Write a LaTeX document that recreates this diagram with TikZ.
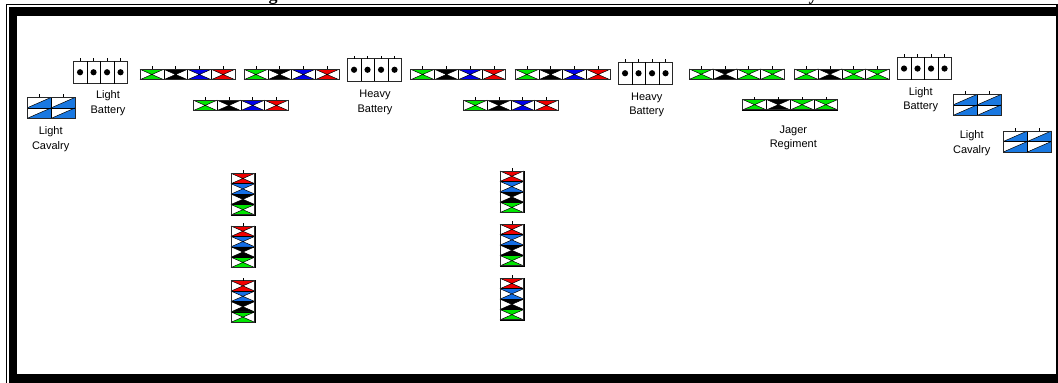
\documentclass[tikz,border=0pt]{standalone}
\usepackage{fontspec}
\setmainfont{Liberation Sans}
\newfontfamily\headfont{Liberation Serif}
\definecolor{infgreen}{RGB}{0,230,0}
\definecolor{infblue}{RGB}{0,0,235}
\definecolor{colblue}{RGB}{20,110,230}
\definecolor{cavblue}{RGB}{25,120,225}
\definecolor{infred}{RGB}{240,0,0}
\definecolor{edge}{RGB}{40,40,40}
\begin{document}
\begin{tikzpicture}[x=1pt,y=-1pt,
  unitline/.style={draw=edge,line width=0.9pt},
  inner/.style={draw=black,line width=0.5pt},
  tick/.style={draw=black,line width=0.6pt},
  label/.style={font=\fontsize{11}{14.5}\selectfont,align=center,inner sep=0pt},
  % one company: top and bottom triangles filled, crossed diagonals
  pics/coy/.style={code={
    \fill[#1] (0,0) -- (23.75,0) -- (11.875,5.2) -- cycle;
    \fill[#1] (0,10.4) -- (23.75,10.4) -- (11.875,5.2) -- cycle;
    \draw[inner] (0,0) -- (23.75,10.4) (0,10.4) -- (23.75,0);
    \draw[inner] (0,0) rectangle (23.75,10.4);
  }},
  % battalion in line: four companies side by side
  pics/bn/.style n args={4}{code={
    \pic at (0,0) {coy=#1};
    \pic at (23.75,0) {coy=#2};
    \pic at (47.5,0) {coy=#3};
    \pic at (71.25,0) {coy=#4};
    \draw[unitline] (0,0) rectangle (95,10.4);
    \foreach \i in {0,...,3} \draw[tick] ({11.875+23.75*\i},0) -- ++(0,-3);
  }},
  % battalion in column: four companies stacked
  pics/col/.style n args={4}{code={
    \pic at (0,0) {coy=#1};
    \pic at (0,10.4) {coy=#2};
    \pic at (0,20.8) {coy=#3};
    \pic at (0,31.2) {coy=#4};
    \draw[unitline] (0,0) rectangle (23.75,41.6);
    \draw[tick] (11.875,0) -- ++(0,-3);
  }},
  % artillery battery: four guns
  pics/battery/.style={code={
    \draw[unitline] (0,0) rectangle (54,22.5);
    \foreach \i in {1,2,3} \draw[inner] ({13.5*\i},0) -- ({13.5*\i},22.5);
    \foreach \i in {0,...,3} {
      \fill ({6.75+13.5*\i},11.25) circle[radius=3.1];
      \draw[tick] ({6.75+13.5*\i},0) -- ++(0,-3);
    }
  }},
  % cavalry: two squadrons of two troops each
  pics/cav/.style={code={
    \foreach \cx in {0,24} \foreach \cy in {0,10.5} {
      \fill[cavblue] (\cx,\cy+10.5) -- (\cx+24,\cy) -- (\cx+24,\cy+10.5) -- cycle;
      \draw[inner] (\cx,\cy+10.5) -- (\cx+24,\cy);
    }
    \draw[inner] (24,0) -- (24,21) (0,10.5) -- (48,10.5);
    \draw[unitline] (0,0) rectangle (48,21);
    \draw[tick] (12,0) -- ++(0,-3) (36,0) -- ++(0,-3);
  }}
]
\useasboundingbox (0,0) rectangle (1058,383);

% heading, cut by the frame
\begin{scope}
  \clip (0,0) rectangle (1058,4.2);
  \node[anchor=base,inner sep=0pt,font=\headfont\bfseries\fontsize{18}{18}\selectfont] (headg) at (273,0.3) {g};
  \node[anchor=base,inner sep=0pt,font=\headfont\bfseries\fontsize{18}{18}\selectfont] (heady) at (813,0.3) {y};
\end{scope}

% frame
\draw[line width=1.2pt] (6.6,383) -- (6.6,4.6) -- (1056.9,4.6) -- (1056.9,383);
\fill (9.3,7) rectangle (1056.2,15.5);
\fill (9.3,7) rectangle (16.6,383);
\fill (9.3,373.5) rectangle (1056.2,383);

% left wing
\pic (lcavl) at (27.3,97.3) {cav};
\node[label] (lcavltxt) at (50.7,139.2) {Light\\Cavalry};
\pic (lbatl) at (73.3,61) {battery};
\node[label] (lbatltxt) at (108,103.4) {Light\\Battery};

% first brigade
\pic (b1) at (140,69.3) {bn={infgreen}{black}{infblue}{infred}};
\pic (b2) at (244,69.3) {bn={infgreen}{black}{infblue}{infred}};
\pic (b6) at (193.3,100.2) {bn={infgreen}{black}{infblue}{infred}};
\pic (hbat1) at (347.3,58.5) {battery};
\node[label] (hbat1txt) at (375,102.5) {Heavy\\Battery};

% second brigade
\pic (b3) at (410.7,69.3) {bn={infgreen}{black}{infblue}{infred}};
\pic (b4) at (515,69.3) {bn={infgreen}{black}{infblue}{infred}};
\pic (b5) at (463.3,100.2) {bn={infgreen}{black}{infblue}{infred}};
\pic (hbat2) at (618.3,62) {battery};
\node[label] (hbat2txt) at (646.7,104.7) {Heavy\\Battery};

% jager regiment
\pic (j1) at (689.3,69) {bn={infgreen}{black}{infgreen}{infgreen}};
\pic (j2) at (794.3,69) {bn={infgreen}{black}{infgreen}{infgreen}};
\pic (j3) at (742.7,99.5) {bn={infgreen}{black}{infgreen}{infgreen}};
\node[label] (jagtxt) at (793.3,137.7) {Jager\\Regiment};

% right wing
\pic (lbatr) at (897.3,57.3) {battery};
\node[label] (lbatrtxt) at (920.7,99.5) {Light\\Battery};
\pic (lcavr1) at (953.3,94.3) {cav};
\pic (lcavr2) at (1003.3,131) {cav};
\node[label] (lcavrtxt) at (971.7,143.3) {Light\\Cavalry};

% reserve columns
\foreach \y [count=\k] in {173.3,226,280.7}
  \pic (cl\k) at (231,\y) {col={infred}{colblue}{black}{infgreen}};
\foreach \y [count=\k] in {171,224.3,278.3}
  \pic (cr\k) at (500,\y) {col={infred}{colblue}{black}{infgreen}};
\end{tikzpicture}
\end{document}
